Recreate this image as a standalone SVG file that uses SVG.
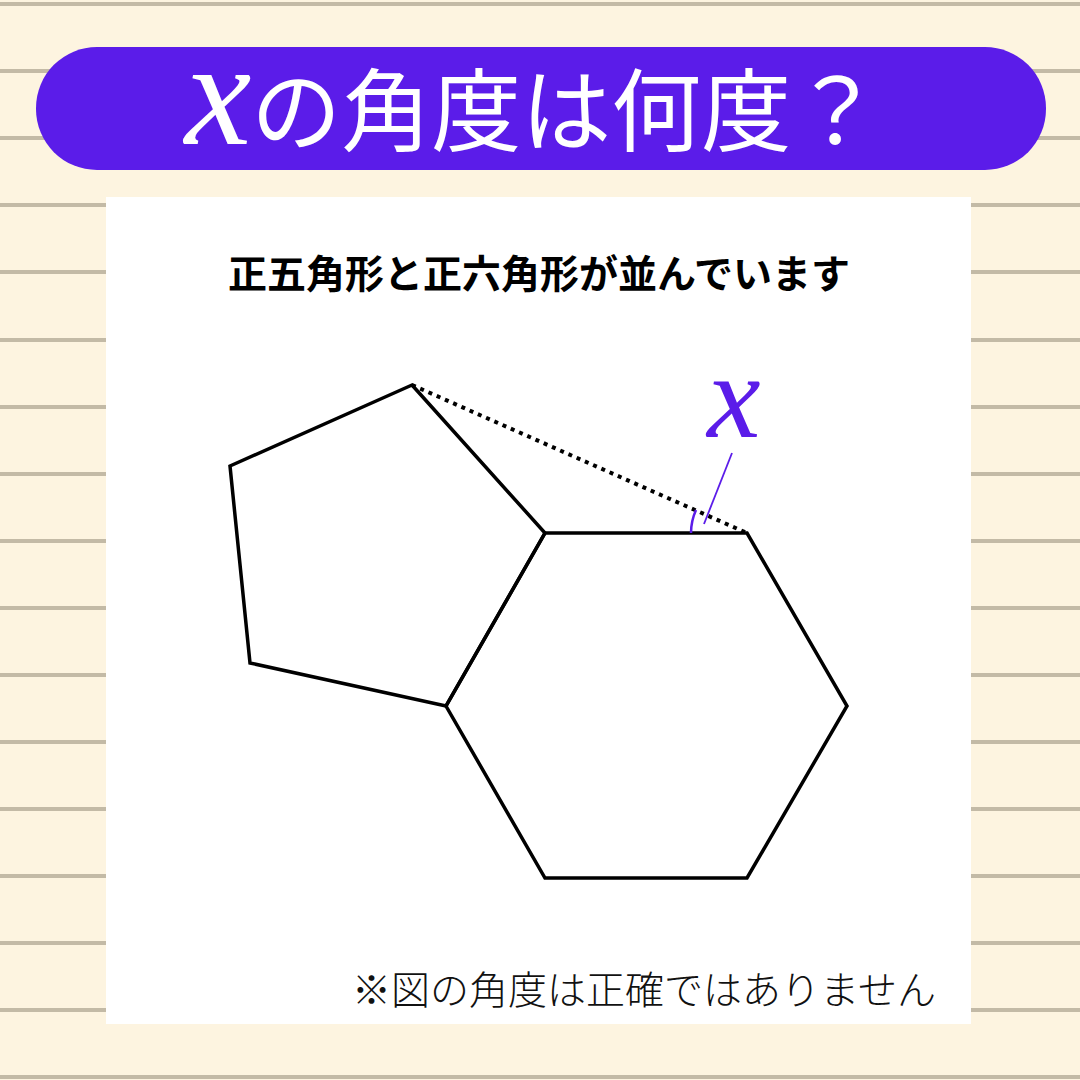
<svg xmlns="http://www.w3.org/2000/svg" width="1080" height="1080" viewBox="0 0 1080 1080">
<style>
.rule{stroke:#c3baa6;stroke-width:4}
.shape{fill:none;stroke:#000;stroke-width:3.5;stroke-linejoin:miter}
.cjk{font-family:"Noto Sans CJK JP","Noto Sans",sans-serif}
.mx{font-family:"Liberation Serif","DejaVu Serif",serif;font-style:italic}
</style>
<rect width="1080" height="1080" fill="#fdf4e0"/>
<g id="rules">
<line class="rule" x1="0" y1="4" x2="1080" y2="4"/>
<line class="rule" x1="0" y1="71" x2="1080" y2="71"/>
<line class="rule" x1="0" y1="138" x2="1080" y2="138"/>
<line class="rule" x1="0" y1="205" x2="1080" y2="205"/>
<line class="rule" x1="0" y1="272" x2="1080" y2="272"/>
<line class="rule" x1="0" y1="340" x2="1080" y2="340"/>
<line class="rule" x1="0" y1="407" x2="1080" y2="407"/>
<line class="rule" x1="0" y1="474" x2="1080" y2="474"/>
<line class="rule" x1="0" y1="541" x2="1080" y2="541"/>
<line class="rule" x1="0" y1="608" x2="1080" y2="608"/>
<line class="rule" x1="0" y1="675" x2="1080" y2="675"/>
<line class="rule" x1="0" y1="742" x2="1080" y2="742"/>
<line class="rule" x1="0" y1="809" x2="1080" y2="809"/>
<line class="rule" x1="0" y1="876" x2="1080" y2="876"/>
<line class="rule" x1="0" y1="943" x2="1080" y2="943"/>
<line class="rule" x1="0" y1="1010" x2="1080" y2="1010"/>
<line class="rule" x1="0" y1="1077" x2="1080" y2="1077"/>
</g>
<g id="title">
<rect x="36" y="47" width="1010" height="123" rx="61" fill="#5b1ce9"/>
<text x="533" y="144" text-anchor="middle" fill="#fff" font-size="90" class="cjk"><tspan class="mx" font-size="150">x</tspan>の角度は何度？</text>
</g>
<rect id="panel" x="106" y="197" width="865" height="827" fill="#fff"/>
<text id="subtitle" x="539" y="288" text-anchor="middle" class="cjk" font-size="39" font-weight="700" fill="#000">正五角形と正六角形が並んでいます</text>
<g id="pentagon">
<polygon class="shape" points="412,385 545,533 446,706 250,663 230,466"/>
</g>
<g id="hexagon">
<polygon class="shape" points="545,533 747,533 847,706 747,878 545,878 446,706"/>
</g>
<g id="connectors">
<line x1="412" y1="385" x2="747" y2="533" stroke="#000" stroke-width="4" stroke-dasharray="4,5"/>
<path d="M 691 533 A 56 56 0 0 1 696 510" fill="none" stroke="#5b1ce9" stroke-width="2.5"/>
<line x1="732" y1="453" x2="704" y2="524" stroke="#5b1ce9" stroke-width="1.8"/>
</g>
<text id="xlabel" x="734" y="437" text-anchor="middle" class="mx" font-size="120" fill="#5b1ce9">x</text>
<text id="note" x="644" y="1004" text-anchor="middle" class="cjk" font-size="39" font-weight="300" fill="#111">※図の角度は正確ではありません</text>
</svg>
